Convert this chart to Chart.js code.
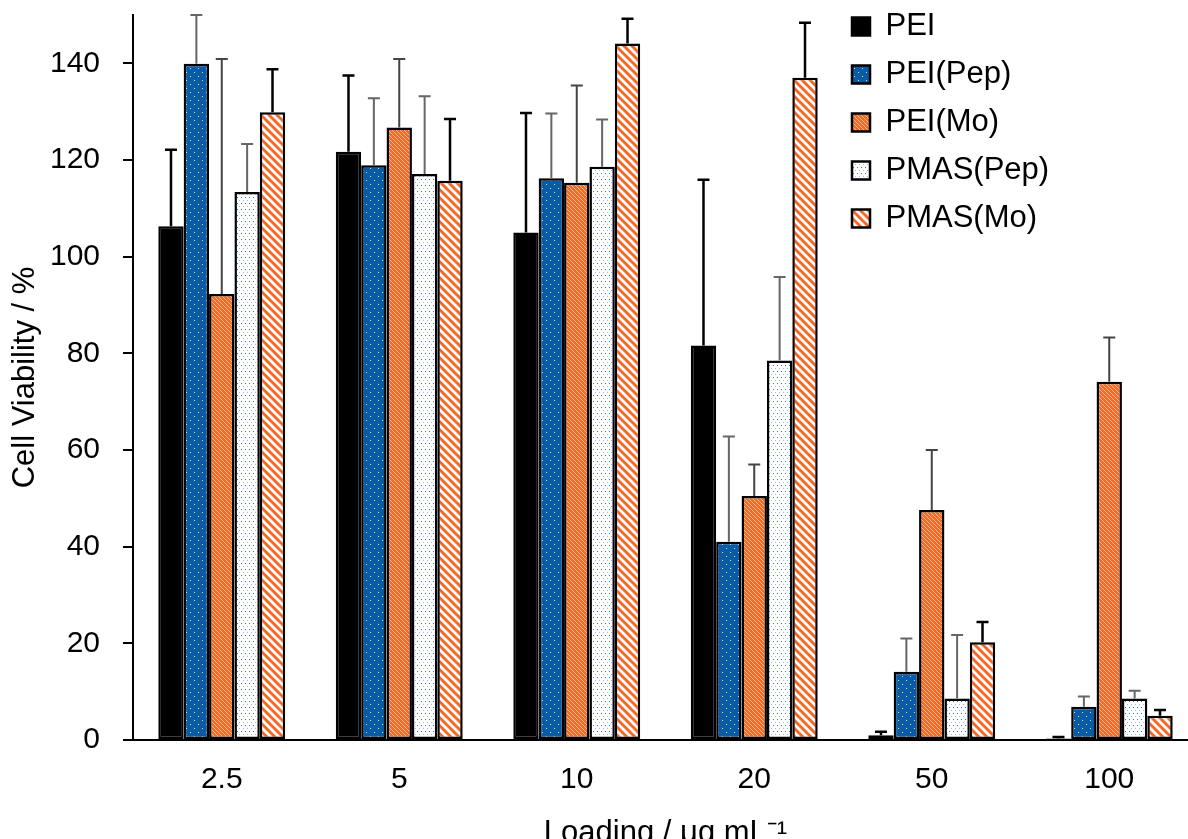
<!DOCTYPE html>
<html><head><meta charset="utf-8">
<script src="https://cdn.jsdelivr.net/npm/chart.js@4.4.1/dist/chart.umd.min.js"></script>
<style>
html,body{margin:0;padding:0;background:#fff;overflow:hidden;width:1188px;height:839px;}
#wrap{position:absolute;left:0;top:-26px;width:1215px;height:878px;}
</style></head><body>
<div id="wrap"><canvas id="c"></canvas></div>
<script>
const categories = ['2.5', '5', '10', '20', '50', '100'];
const seriesNames = ['PEI', 'PEI(Pep)', 'PEI(Mo)', 'PMAS(Pep)', 'PMAS(Mo)'];
const peiVals      = [106.3, 121.7, 105.0, 81.6, 1.0, 0.3];
const peiErr       = [15.8, 15.8, 24.7, 34.3, 0.7, 0.3];
const peiPepVals   = [139.9, 118.9, 116.2, 41.0, 14.1, 6.9];
const peiPepErr    = [10.1, 13.9, 13.4, 21.8, 6.9, 2.1];
const peiMoVals    = [92.3, 126.7, 115.3, 50.5, 47.6, 74.1];
const peiMoErr     = [48.6, 14.2, 20.1, 6.5, 12.4, 9.2];
const pmasPepVals  = [113.4, 117.1, 118.6, 78.5, 8.6, 8.6];
const pmasPepErr   = [9.9, 16.1, 9.8, 17.3, 13.1, 1.6];
const pmasMoVals   = [129.9, 115.7, 144.1, 137.0, 20.2, 5.0];
const pmasMoErr    = [8.9, 12.8, 5.1, 11.4, 4.2, 1.2];
const yTickValues  = [0, 20, 40, 60, 80, 100, 120, 140];
const yAxisTitle = 'Cell Viability / %';
const xAxisTitle = 'Loading / \u03bcg mL\u207b\u00b9';

const BLUE = '#0a5ba7';
const ORANGE = '#f26a26';

function tile(w, h, fn) {
  const c = document.createElement('canvas');
  c.width = w; c.height = h;
  const g = c.getContext('2d');
  fn(g, w, h);
  return document.createElement('canvas').getContext('2d').createPattern(c, 'repeat');
}
function diag(g, s, color, lw) {
  g.strokeStyle = color; g.lineWidth = lw;
  for (let k = -1; k <= 1; k++) {
    g.beginPath(); g.moveTo(k * s - 1, -1); g.lineTo(k * s + s + 1, s + 1); g.stroke();
  }
}
const patBlueDots = tile(8, 8, (g) => {
  g.fillStyle = BLUE; g.fillRect(0, 0, 8, 8);
  g.fillStyle = 'rgba(255,255,255,0.8)';
  g.fillRect(2, 2, 1, 1); g.fillRect(6, 6, 1, 1);
});
const patOrangeFine = tile(4, 4, (g) => {
  g.fillStyle = ORANGE; g.fillRect(0, 0, 4, 4);
  diag(g, 4, 'rgba(255,220,195,0.75)', 0.9);
});
const patWhiteDots = tile(4, 6, (g) => {
  g.fillStyle = '#ffffff'; g.fillRect(0, 0, 4, 6);
  g.fillStyle = 'rgba(30,105,190,0.9)'; g.fillRect(1, 1, 1, 1);
  g.fillStyle = 'rgba(30,105,190,0.45)'; g.fillRect(3, 4, 1, 1);
});
const patWhiteStripes = tile(8, 8, (g) => {
  g.fillStyle = '#ffffff'; g.fillRect(0, 0, 8, 8);
  diag(g, 8, ORANGE, 3);
});

const fills = ['#000000', patBlueDots, patOrangeFine, patWhiteDots, patWhiteStripes];
const values = [peiVals, peiPepVals, peiMoVals, pmasPepVals, pmasMoVals];
const errors = [peiErr, peiPepErr, peiMoErr, pmasPepErr, pmasMoErr];
const errColors = ['#000', '#666', '#444', '#666', '#000'];
const errWidths = [2.5, 2, 2, 2, 2.5];

const errorBars = {
  id: 'errorBars',
  afterDatasetsDraw(chart) {
    const ctx = chart.ctx, ys = chart.scales.y, a = chart.chartArea;
    ctx.save();
    ctx.beginPath(); ctx.rect(a.left - 2, a.top - 2, a.right - a.left + 4, a.bottom - a.top + 4); ctx.clip();
    chart.data.datasets.forEach((ds, i) => {
      const meta = chart.getDatasetMeta(i);
      ctx.strokeStyle = errColors[i]; ctx.lineWidth = errWidths[i];
      meta.data.forEach((el, j) => {
        const v = ds.data[j], e = errors[i][j];
        const top = ys.getPixelForValue(Math.min(v + e, ys.max));
        ctx.beginPath();
        ctx.moveTo(el.x, el.y); ctx.lineTo(el.x, top);
        ctx.moveTo(el.x - 6, top); ctx.lineTo(el.x + 6, top);
        ctx.stroke();
      });
    });
    ctx.restore();
  }
};
const legendShift = {
  id: 'legendShift',
  afterLayout(chart) {
    const l = chart.legend;
    if (!l) return;
    l.left = 853 - 18;
    l.top = 20;
  }
};

Chart.defaults.font.family = "'Liberation Sans', Arial, sans-serif";
Chart.defaults.font.size = 30;
Chart.defaults.color = '#000';

new Chart(document.getElementById('c'), {
  type: 'bar',
  data: {
    labels: categories,
    datasets: seriesNames.map((n, i) => ({
      label: n,
      data: values[i],
      backgroundColor: fills[i],
      borderColor: '#000',
      borderWidth: 2.5,
      borderSkipped: false,
      categoryPercentage: 0.715,
      barPercentage: 1.0
    }))
  },
  options: {
    responsive: true,
    maintainAspectRatio: false,
    animation: false,
    layout: { padding: { left: 3, right: 17, top: 15, bottom: 0 } },
    plugins: {
      legend: {
        position: 'chartArea',
        align: 'start',
        labels: { boxWidth: 18, boxHeight: 18, padding: 17, font: { size: 31 }, color: '#000' }
      },
      tooltip: { enabled: false }
    },
    scales: {
      x: {
        afterFit: (s) => { s.height = 112; },
        grid: { display: false, drawTicks: false },
        border: { display: true, color: '#000', width: 2 },
        ticks: { padding: 22, font: { size: 30 }, color: '#000' },
        title: { display: true, text: xAxisTitle, font: { size: 31 }, color: '#000', padding: { top: 0, bottom: 0 } }
      },
      y: {
        min: 0, max: 150,
        afterFit: (s) => { s.width = 130; },
        afterBuildTicks: (s) => { s.ticks = yTickValues.map(v => ({ value: v })); },
        grid: { drawOnChartArea: false, drawTicks: true, tickLength: 10, color: '#000', lineWidth: 2 },
        border: { display: true, color: '#000', width: 2 },
        ticks: { padding: 23, font: { size: 30 }, color: '#000' },
        title: { display: true, text: yAxisTitle, font: { size: 31 }, color: '#000', padding: { top: 4, bottom: 4 } }
      }
    }
  },
  plugins: [errorBars, legendShift]
});
</script>
</body></html>
